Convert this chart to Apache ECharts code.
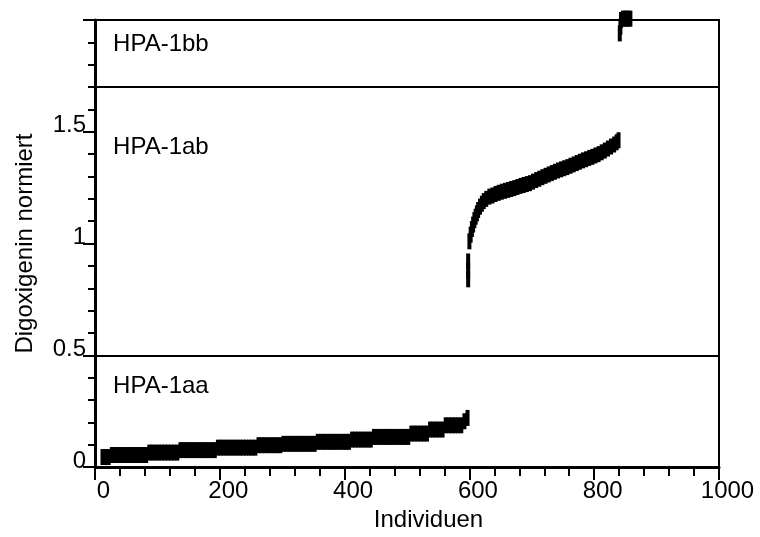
<!DOCTYPE html>
<html><head><meta charset="utf-8">
<script src="https://cdn.jsdelivr.net/npm/echarts@6/dist/echarts.min.js"></script>
<style>html,body{margin:0;padding:0;background:#fff}#c{width:760px;height:537px}</style>
</head><body><div id="c"></div>
<script>
// HPA-1aa individuals (x) and normalized digoxigenin values (y)
const aaX = [12,17,22,27,32,37,42,47,52,57,62,67,72,77,82,87,92,97,102,107,112,117,122,127,132,137,142,147,152,157,162,167,172,177,182,187,192,197,202,207,212,217,222,227,232,237,242,247,252,257,262,267,272,277,282,287,292,297,302,307,312,317,322,327,332,337,342,347,352,357,362,367,372,377,382,387,392,397,402,407,412,417,422,427,432,437,442,447,452,457,462,467,472,477,482,487,492,497,502,507,512,517,522,527,532,537,542,547,552,557,562,567,572,577,582,587,592,597];
const aaY = [0.045,0.045,0.045,
  0.054,0.054,0.054,0.054,0.054,0.054,0.054,0.054,0.054,0.054,0.054,0.054,
  0.065,0.065,0.065,0.065,0.065,0.065,0.065,0.065,0.065,0.065,
  0.076,0.076,0.076,0.076,0.076,0.076,0.076,0.076,0.076,0.076,0.076,0.076,
  0.087,0.087,0.087,0.087,0.087,0.087,0.087,0.087,0.087,0.087,0.087,0.087,0.087,
  0.098,0.098,0.098,0.098,0.098,0.098,0.098,0.098,
  0.104,0.104,0.104,0.104,0.104,0.104,0.104,0.104,0.104,0.104,0.104,
  0.113,0.113,0.113,0.113,0.113,0.113,0.113,0.113,0.113,0.113,0.113,
  0.123,0.123,0.123,0.123,0.123,0.123,0.123,
  0.135,0.135,0.135,0.135,0.135,0.135,0.135,0.135,0.135,0.135,0.135,0.135,
  0.150,0.150,0.150,0.150,0.150,0.150,
  0.168,0.168,0.168,0.168,0.168,
  0.187,0.187,0.187,0.187,0.187,0.187,
  0.205,0.220];
// HPA-1ab
const abX = [598,598,598,600,602,604,606,608,610,612,614,617,620,623,627,632,637,642,647,652,657,662,667,672,677,682,687,692,697,702,707,712,717,722,727,732,737,742,747,752,757,762,767,772,777,782,787,792,797,802,807,812,817,822,827,832,836,839];
const abY = [0.84,0.88,0.92,1.01,1.04,1.065,1.085,1.105,1.12,1.135,1.15,1.165,1.178,1.19,1.20,1.21,1.215,1.222,1.227,1.232,1.236,1.24,1.244,1.248,1.253,1.258,1.262,1.266,1.27,1.277,1.284,1.29,1.297,1.303,1.309,1.315,1.321,1.327,1.332,1.337,1.342,1.348,1.354,1.36,1.366,1.372,1.377,1.383,1.388,1.394,1.40,1.408,1.416,1.425,1.434,1.443,1.453,1.462];
// HPA-1bb
const bbX = [841,842,843,846,849,852,855,858];
const bbY = [1.94,1.97,2.0,2.006,2.006,2.006,2.006,2.006];
// group labels and separators
const groupNames = ['HPA-1bb','HPA-1ab','HPA-1aa'];
const groupLabelX = [29,29,29];
const groupLabelY = [1.89,1.431,0.359];
const separators = [0.5, 1.7];

const FONT = 'Liberation Sans, Arial, Helvetica, sans-serif';
const zip = (xs, ys) => xs.map((x, i) => [x, ys[i]]);
const chart = echarts.init(document.getElementById('c'));
const pointStyle = {type:'scatter', symbol:'rect', symbolSize:[4,16], itemStyle:{color:'#000', opacity:1}, clip:false, silent:true, z:5};
chart.setOption({
  animation:false,
  textStyle:{fontFamily:FONT},
  grid:{left:95, right:41, top:20, bottom:64, show:true, borderColor:'#000', borderWidth:2},
  xAxis:{type:'value', min:0, max:1000, interval:200,
    axisLine:{show:true, onZero:false, lineStyle:{color:'#000', width:3}},
    axisTick:{show:true, length:13, lineStyle:{color:'#000', width:2}},
    minorTick:{show:true, splitNumber:5, length:9, lineStyle:{color:'#000', width:2}},
    splitLine:{show:false},
    axisLabel:{fontSize:24, color:'#000', fontFamily:FONT, margin:12, padding:[0,0,0,17], formatter:v => String(v)},
    name:'Individuen', nameLocation:'middle', nameGap:32,
    nameTextStyle:{fontSize:24, color:'#000', fontFamily:FONT, padding:[0,0,0,43]}
  },
  yAxis:{type:'value', min:0, max:2, interval:0.5,
    axisLine:{show:true, onZero:false, lineStyle:{color:'#000', width:3}},
    axisTick:{show:true, length:12, lineStyle:{color:'#000', width:2}},
    minorTick:{show:true, splitNumber:5, length:7, lineStyle:{color:'#000', width:2}},
    splitLine:{show:false},
    axisLabel:{fontSize:24, color:'#000', fontFamily:FONT, margin:9, verticalAlign:'bottom', lineHeight:12,
      formatter:v => (v === 2 ? '' : String(v))},
    name:'Digoxigenin normiert', nameLocation:'middle', nameGap:58,
    nameTextStyle:{fontSize:24, color:'#000', fontFamily:FONT}
  },
  series:[
    Object.assign({name:'HPA-1aa', data:zip(aaX, aaY)}, pointStyle),
    Object.assign({name:'HPA-1ab', data:zip(abX, abY)}, pointStyle),
    Object.assign({name:'HPA-1bb', data:zip(bbX, bbY)}, pointStyle),
    {type:'scatter', name:'labels', symbolSize:0, silent:true, z:4, itemStyle:{opacity:1},
      data: groupNames.map((n, i) => ({name:n, value:[groupLabelX[i], groupLabelY[i]]})),
      label:{show:true, position:'right', distance:0, formatter:p => p.name, fontSize:24, color:'#000', opacity:1, fontFamily:FONT},
      markLine:{silent:true, symbol:['none','none'], label:{show:false},
        lineStyle:{color:'#000', width:2, type:'solid', opacity:1},
        data: separators.map(v => ({yAxis:v}))}
    }
  ]
});
</script></body></html>
